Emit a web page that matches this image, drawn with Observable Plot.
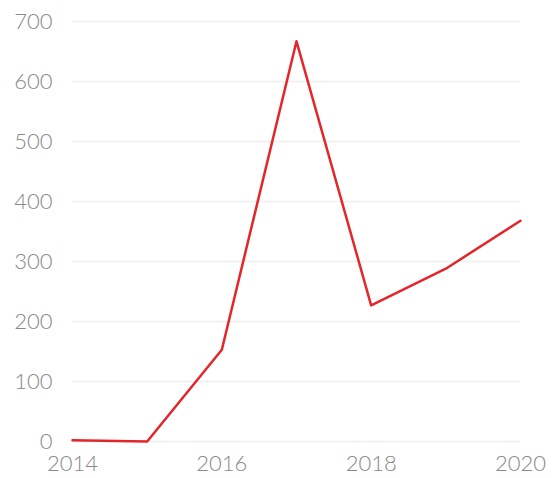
<!DOCTYPE html>
<html>
<head>
<meta charset="utf-8">
<script src="https://cdn.jsdelivr.net/npm/d3@7"></script>
<script src="https://cdn.jsdelivr.net/npm/@observablehq/plot@0.6"></script>
<style>
  html, body { margin: 0; padding: 0; background: #fff; }
</style>
</head>
<body>
<div id="chart"></div>
<script>
const years = [2014, 2015, 2016, 2017, 2018, 2019, 2020];
const values = [2, 0, 153, 667, 227, 288, 368];
const yTicks = [0, 100, 200, 300, 400, 500, 600, 700];
const xTicks = [2014, 2016, 2018, 2020];

const data = years.map((y, i) => ({year: y, value: values[i]}));

const chart = Plot.plot({
  width: 557,
  height: 478,
  marginLeft: 72,
  marginRight: 37,
  marginTop: 21,
  marginBottom: 37,
  style: {fontFamily: "Lato", fontWeight: 300, fontSize: "22px", color: "#888", background: "#fff"},
  x: {domain: [2014, 2020], ticks: xTicks, tickFormat: d => String(d), label: null},
  y: {domain: [0, 700], ticks: yTicks, label: null},
  marks: [
    Plot.gridY(yTicks, {stroke: "#eeeeee", strokeOpacity: 1, strokeWidth: 1.5}),
    Plot.axisY(yTicks, {tickSize: 0, tickPadding: 20, label: null, fill: "#888"}),
    Plot.axisX(xTicks, {tickSize: 0, tickPadding: 14, label: null, fill: "#888", tickFormat: d => String(d)}),
    Plot.line(data, {x: "year", y: "value", stroke: "#e3262a", strokeWidth: 2.5})
  ]
});
document.getElementById("chart").appendChild(chart);
</script>
</body>
</html>
